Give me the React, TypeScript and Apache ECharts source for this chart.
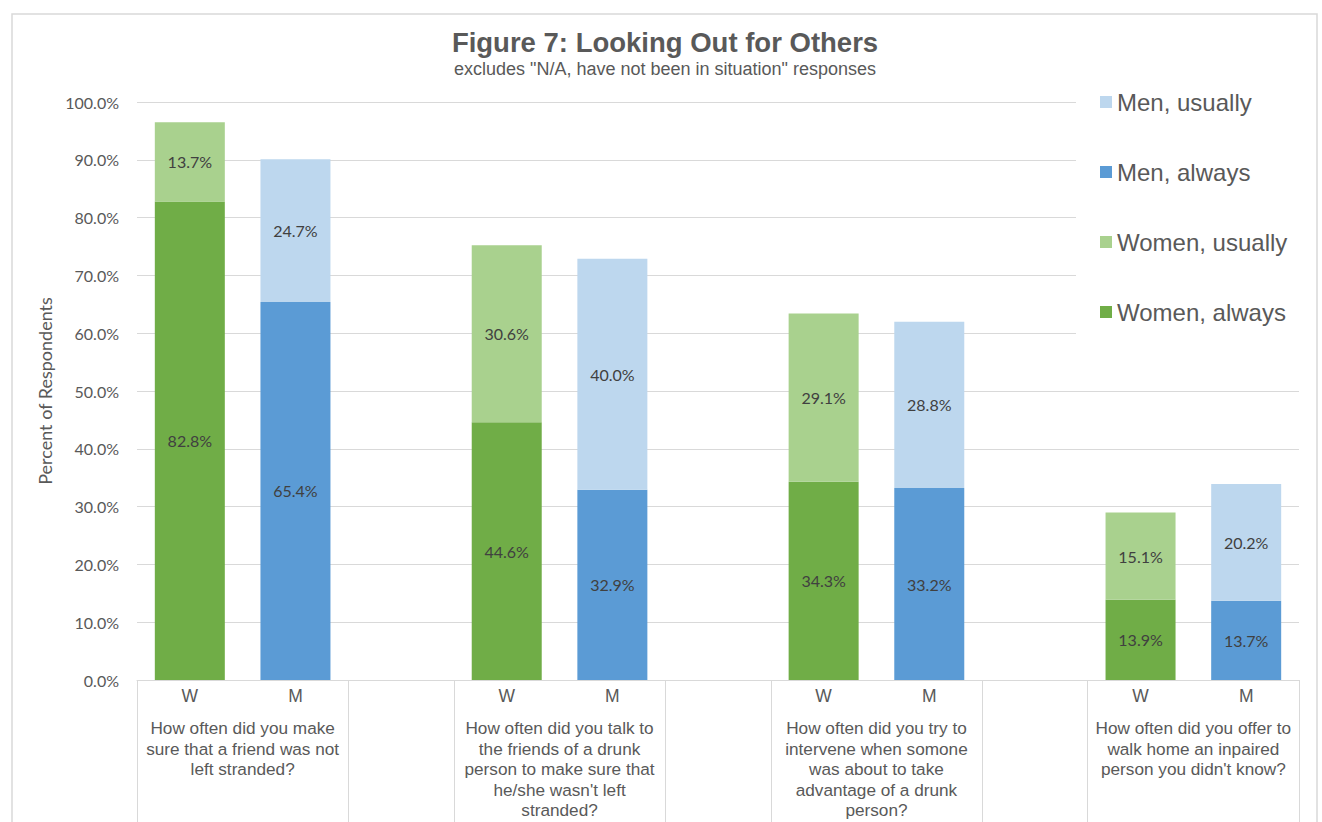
import React, { useEffect, useRef } from 'react';
import * as echarts from 'echarts';

const titleText = 'Figure 7: Looking Out for Others';
const subtitleText = 'excludes "N/A, have not been in situation" responses';
const yAxisTitle = 'Percent of Respondents';

const questions = [
  'How often did you make\nsure that a friend was not\nleft stranded?',
  'How often did you talk to\nthe friends of a drunk\nperson to make sure that\nhe/she wasn\'t left\nstranded?',
  'How often did you try to\nintervene when somone\nwas about to take\nadvantage of a drunk\nperson?',
  'How often did you offer to\nwalk home an inpaired\nperson you didn\'t know?',
];
const genderLabels = ['W', 'M'];

const womenAlways = [82.8, 44.6, 34.3, 13.9];
const womenUsually = [13.7, 30.6, 29.1, 15.1];
const menAlways = [65.4, 32.9, 33.2, 13.7];
const menUsually = [24.7, 40.0, 28.8, 20.2];

const yMin = 0;
const yMax = 100;
const yStep = 10;

const COLORS = {
  womenAlways: '#70ad47',
  womenUsually: '#a9d18e',
  menAlways: '#5b9bd5',
  menUsually: '#bdd7ee',
};

const ARIAL = '"Liberation Sans", Arial, sans-serif';
const CALIBRI = 'Lato, "Open Sans", sans-serif';
const TEXT = '#595959';
const GRID = '#d9d9d9';

// 11 category slots: W, M, gap, W, M, gap, ...
const categories: string[] = [];
questions.forEach((_, i) => {
  categories.push(genderLabels[0], genderLabels[1]);
  if (i < questions.length - 1) categories.push('');
});

function toSlots(values: number[], offset: number) {
  const out: (number | string)[] = categories.map(() => '-');
  values.forEach((v, i) => {
    out[i * 3 + offset] = v;
  });
  return out;
}

const groupBoundaries: number[] = [];
const groupCenters: number[] = [];
questions.forEach((_, i) => {
  groupBoundaries.push(i * 3, i * 3 + 2);
  groupCenters.push(i * 3 + 1);
});

export default function App() {
  const ref = useRef<HTMLDivElement>(null);
  useEffect(() => {
    if (!ref.current) return;
    const chart = echarts.init(ref.current, null, { renderer: 'svg' });
    const label = {
      show: true,
      position: 'inside',
      color: '#404040',
      fontFamily: CALIBRI,
      fontSize: 16,
      formatter: (p: any) => `${Number(p.value).toFixed(1)}%`,
    };
    const mkSeries = (name: string, data: any[], color: string) => ({
      name,
      type: 'bar',
      stack: 'total',
      barWidth: 70,
      data,
      itemStyle: { color },
      label,
      emphasis: { disabled: true },
    });
    chart.setOption({
      animation: false,
      backgroundColor: '#fff',
      title: {
        text: titleText,
        subtext: subtitleText,
        left: 665,
        textAlign: 'center',
        top: 27,
        padding: 0,
        itemGap: 2,
        textStyle: { fontFamily: ARIAL, fontSize: 27.5, fontWeight: 'bold', color: TEXT, lineHeight: 30 },
        subtextStyle: { fontFamily: ARIAL, fontSize: 18, color: TEXT, lineHeight: 20 },
      },
      legend: {
        orient: 'vertical',
        left: 1076,
        top: 84,
        padding: [4, 20, 15, 24],
        backgroundColor: '#fff',
        itemWidth: 12,
        itemHeight: 12,
        itemGap: 42,
        icon: 'rect',
        data: ['Men, usually', 'Men, always', 'Women, usually', 'Women, always'],
        textStyle: { fontFamily: ARIAL, fontSize: 24, color: TEXT, lineHeight: 28, padding: [0, 0, 0, 0] },
      },
      grid: { left: 137, right: 23, top: 102, bottom: 142, containLabel: false },
      xAxis: [
        {
          type: 'category',
          data: categories,
          axisLine: { show: true, lineStyle: { color: GRID, width: 1 } },
          axisTick: { show: false },
          axisLabel: { interval: 0, margin: 7, fontFamily: ARIAL, fontSize: 17.5, color: TEXT },
          splitLine: { show: false },
        },
        {
          type: 'value',
          position: 'bottom',
          min: 0,
          max: categories.length,
          axisLine: { show: false },
          splitLine: { show: false },
          axisTick: {
            show: true,
            customValues: [...groupBoundaries, categories.length],
            length: 142,
            lineStyle: { color: GRID, width: 1 },
          },
          axisLabel: {
            show: true,
            customValues: groupCenters,
            margin: 38,
            fontFamily: ARIAL,
            fontSize: 17.2,
            lineHeight: 20.5,
            color: TEXT,
            align: 'center',
            formatter: (v: number) => questions[groupCenters.indexOf(Math.round(v))] ?? '',
          },
        },
      ],
      yAxis: {
        type: 'value',
        min: yMin,
        max: yMax,
        interval: yStep,
        name: yAxisTitle,
        nameLocation: 'middle',
        nameRotate: 90,
        nameGap: 77,
        nameTextStyle: { fontFamily: CALIBRI, fontSize: 18, color: TEXT },
        axisLine: { show: false },
        axisTick: { show: false },
        axisLabel: {
          margin: 18,
          fontFamily: CALIBRI,
          fontSize: 16,
          color: TEXT,
          formatter: (v: number) => `${v.toFixed(1)}%`,
        },
        splitLine: { lineStyle: { color: GRID, width: 1 } },
      },
      graphic: [
        {
          type: 'rect',
          shape: { x: 12, y: 14, width: 1305, height: 830 },
          style: { fill: 'none', stroke: GRID, lineWidth: 1.5 },
          silent: true,
          z: 100,
        },
      ],
      series: [
        mkSeries('Women, always', toSlots(womenAlways, 0), COLORS.womenAlways),
        mkSeries('Women, usually', toSlots(womenUsually, 0), COLORS.womenUsually),
        mkSeries('Men, always', toSlots(menAlways, 1), COLORS.menAlways),
        mkSeries('Men, usually', toSlots(menUsually, 1), COLORS.menUsually),
      ],
    });
    return () => chart.dispose();
  }, []);
  return (
    <div
      ref={ref}
      style={{ position: 'absolute', left: 0, top: 0, width: 1322, height: 822 }}
    />
  );
}
